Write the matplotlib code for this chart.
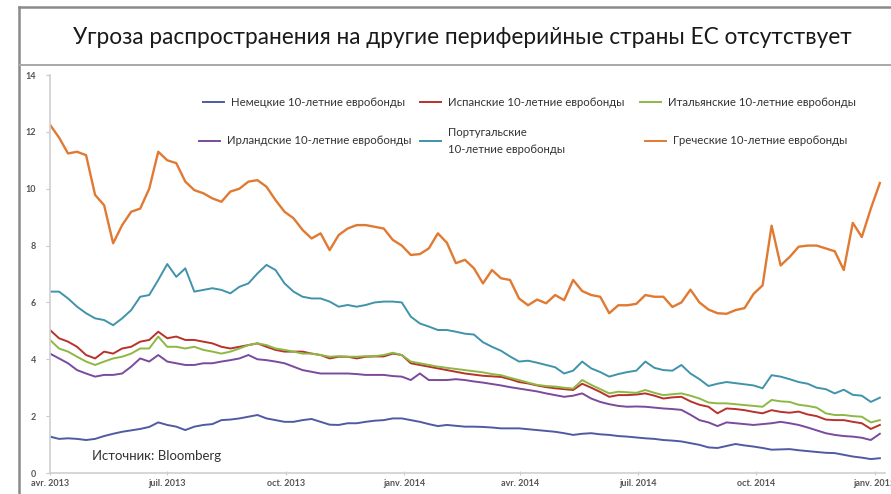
import matplotlib
matplotlib.use("Agg")
import matplotlib.pyplot as plt
from matplotlib.lines import Line2D
import pandas as pd

plt.rcParams['font.family'] = ['Lato', 'DejaVu Sans']

# weekly readings, 1 Apr 2013 .. early Jan 2015
dates = pd.date_range('2013-04-01', periods=93, freq='7D')

greek = [12.25, 11.8, 11.24, 11.3, 11.18, 9.78, 9.42, 8.08, 8.72, 9.19,
         9.3, 10.0, 11.3, 11.0, 10.9, 10.25, 9.95, 9.84, 9.66, 9.54,
         9.9, 10.0, 10.25, 10.3, 10.07, 9.6, 9.19, 8.96, 8.55, 8.25,
         8.43, 7.84, 8.37, 8.6, 8.72, 8.72, 8.66, 8.6, 8.2, 8.0,
         7.67, 7.7, 7.9, 8.43, 8.1, 7.38, 7.5, 7.2, 6.67, 7.14,
         6.85, 6.79, 6.14, 5.9, 6.1, 5.97, 6.26, 6.08, 6.79, 6.4,
         6.26, 6.2, 5.62, 5.9, 5.9, 5.95, 6.26, 6.2, 6.2, 5.84,
         6.0, 6.45, 6.0, 5.75, 5.62, 5.6, 5.73, 5.8, 6.3, 6.6,
         8.7, 7.3, 7.6, 7.96, 8.0, 8.0, 7.9, 7.8, 7.14, 8.8,
         8.3, 9.3, 10.2]
portugal = [6.38, 6.38, 6.14, 5.85, 5.62, 5.44, 5.38, 5.2, 5.44, 5.73,
            6.2, 6.26, 6.79, 7.35, 6.9, 7.2, 6.38, 6.44, 6.5, 6.44,
            6.32, 6.55, 6.67, 7.02, 7.32, 7.14, 6.67, 6.38, 6.2, 6.14,
            6.14, 6.03, 5.85, 5.91, 5.85, 5.91, 6.0, 6.03, 6.03, 6.0,
            5.5, 5.26, 5.15, 5.03, 5.03, 4.97, 4.9, 4.87, 4.6, 4.44,
            4.3, 4.1, 3.92, 3.95, 3.88, 3.8, 3.72, 3.5, 3.6, 3.92,
            3.68, 3.55, 3.39, 3.48, 3.55, 3.6, 3.92, 3.7, 3.62, 3.6,
            3.8, 3.5, 3.3, 3.06, 3.14, 3.2, 3.16, 3.12, 3.08, 2.98,
            3.44, 3.39, 3.3, 3.2, 3.14, 3.0, 2.95, 2.8, 2.93, 2.75,
            2.72, 2.5, 2.65]
spain = [5.03, 4.74, 4.62, 4.44, 4.15, 4.03, 4.27, 4.2, 4.38, 4.44,
         4.62, 4.68, 4.97, 4.74, 4.8, 4.68, 4.68, 4.62, 4.56, 4.44,
         4.38, 4.44, 4.5, 4.56, 4.44, 4.33, 4.27, 4.27, 4.27, 4.2,
         4.15, 4.03, 4.09, 4.09, 4.03, 4.09, 4.1, 4.1, 4.2, 4.15,
         3.86, 3.8, 3.74, 3.68, 3.62, 3.56, 3.5, 3.46, 3.42, 3.4,
         3.38, 3.3, 3.2, 3.15, 3.08, 3.02, 2.98, 2.95, 2.92, 3.14,
         3.0, 2.85, 2.68, 2.74, 2.74, 2.76, 2.8, 2.72, 2.62, 2.66,
         2.68, 2.52, 2.4, 2.33, 2.1, 2.27, 2.25, 2.21, 2.15, 2.1,
         2.21, 2.15, 2.12, 2.16, 2.06, 2.0, 1.88, 1.86, 1.86, 1.8,
         1.75, 1.55, 1.69]
italy = [4.68, 4.38, 4.27, 4.09, 3.92, 3.8, 3.92, 4.03, 4.09, 4.2,
         4.38, 4.38, 4.8, 4.44, 4.44, 4.38, 4.44, 4.33, 4.27, 4.2,
         4.27, 4.38, 4.5, 4.56, 4.5, 4.38, 4.33, 4.27, 4.2, 4.2,
         4.15, 4.09, 4.11, 4.09, 4.09, 4.11, 4.11, 4.15, 4.23, 4.15,
         3.92, 3.86, 3.8, 3.74, 3.7, 3.66, 3.62, 3.58, 3.54, 3.48,
         3.44, 3.35, 3.27, 3.18, 3.1, 3.06, 3.04, 3.0, 2.97, 3.27,
         3.1, 2.95, 2.8, 2.86, 2.84, 2.82, 2.92, 2.82, 2.74, 2.77,
         2.8, 2.72, 2.62, 2.48, 2.45, 2.45, 2.42, 2.39, 2.36, 2.33,
         2.57, 2.52, 2.5, 2.4, 2.36, 2.3, 2.1, 2.04, 2.04, 2.0,
         1.98, 1.78, 1.86]
ireland = [4.2, 4.03, 3.86, 3.62, 3.5, 3.39, 3.45, 3.45, 3.5, 3.74,
           4.03, 3.92, 4.15, 3.92, 3.86, 3.8, 3.8, 3.86, 3.86, 3.92,
           3.97, 4.03, 4.15, 4.0, 3.97, 3.92, 3.86, 3.74, 3.62, 3.56,
           3.5, 3.5, 3.5, 3.5, 3.48, 3.45, 3.45, 3.45, 3.41, 3.39,
           3.27, 3.5, 3.27, 3.27, 3.27, 3.3, 3.27, 3.22, 3.18, 3.13,
           3.08, 3.02, 2.97, 2.92, 2.87, 2.8, 2.74, 2.68, 2.72, 2.8,
           2.62, 2.5, 2.42, 2.36, 2.33, 2.34, 2.33, 2.3, 2.27, 2.25,
           2.22, 2.05, 1.86, 1.78, 1.65, 1.78, 1.75, 1.72, 1.69, 1.72,
           1.75, 1.8, 1.75, 1.69, 1.6, 1.5, 1.4, 1.34, 1.3, 1.28,
           1.24, 1.16, 1.38]
germany = [1.28, 1.2, 1.22, 1.2, 1.16, 1.2, 1.3, 1.38, 1.45, 1.5,
           1.55, 1.62, 1.78, 1.69, 1.63, 1.51, 1.63, 1.69, 1.72, 1.86,
           1.88, 1.92, 1.98, 2.04, 1.92, 1.86, 1.8, 1.8, 1.86, 1.9,
           1.8, 1.7, 1.69, 1.75, 1.75, 1.8, 1.84, 1.86, 1.92, 1.92,
           1.86, 1.8, 1.72, 1.65, 1.69, 1.66, 1.63, 1.63, 1.62, 1.6,
           1.57, 1.57, 1.57, 1.54, 1.51, 1.48, 1.45, 1.4, 1.34, 1.38,
           1.4, 1.36, 1.34, 1.3, 1.28, 1.25, 1.22, 1.2, 1.16, 1.14,
           1.11, 1.05, 0.99, 0.9, 0.88, 0.95, 1.02, 0.97, 0.93, 0.88,
           0.82, 0.83, 0.84, 0.8, 0.77, 0.74, 0.71, 0.7, 0.64, 0.58,
           0.54, 0.49, 0.52]

tick_dates = pd.to_datetime(['2013-04-01', '2013-07-01', '2013-10-01', '2014-01-01',
                             '2014-04-01', '2014-07-01', '2014-10-01', '2015-01-01'])
tick_labels = ['avr. 2013', 'juil. 2013', 'oct. 2013', 'janv. 2014',
               'avr. 2014', 'juil. 2014', 'oct. 2014', 'janv. 2015']

title = 'Угроза распространения на другие периферийные страны ЕС отсутствует'

# (name, values, colour)
series = [
    ('Немецкие 10-летние евробонды', germany, '#4f5aa3'),
    ('Испанские 10-летние евробонды', spain, '#b8322c'),
    ('Итальянские 10-летние евробонды', italy, '#8db843'),
    ('Ирландские 10-летние евробонды', ireland, '#7b4a9c'),
    ('Португальские\n10-летние евробонды', portugal, '#3f93aa'),
    ('Греческие 10-летние евробонды', greek, '#e07a32'),
]

W, H = 891, 494
fig = plt.figure(figsize=(W / 100, H / 100), dpi=100)
ax = fig.add_axes([50 / W, 1 - 473 / H, 835 / W, 398 / H])

for name, vals, col in series:
    lw = 1.7 if vals is greek else 1.4
    ax.plot(dates, vals, color=col, lw=lw, solid_joinstyle='round')

ax.set_ylim(0, 14)
ax.set_yticks(range(0, 15, 2))
ax.set_xlim(pd.Timestamp('2013-04-01'), pd.Timestamp('2015-01-09'))
ax.set_xticks(tick_dates)
ax.set_xticklabels(tick_labels)

for s in ['top', 'right']:
    ax.spines[s].set_visible(False)
for s in ['left', 'bottom']:
    ax.spines[s].set_color('#d0d0d0')
    ax.spines[s].set_linewidth(1.2)
ax.tick_params(axis='y', length=3, color='#c8c8c8', labelsize=6.5,
               labelcolor='#555555', pad=7)
ax.tick_params(axis='x', length=3, direction='inout', color='#c8c8c8',
               labelsize=6.5, labelcolor='#555555', pad=3)
for lab in ax.get_xticklabels() + ax.get_yticklabels():
    lab.set_fontweight('bold')


def fx(px):
    return px / W


def fy(py):
    return 1 - py / H


fig.text(fx(92), fy(456), 'Источник: Bloomberg', fontsize=9.5,
         color='#333333', va='center')

# frame and title band
fig.add_artist(Line2D([fx(19), fx(19)], [0, fy(7)], color='#8a8a8a', lw=1.8))
fig.add_artist(Line2D([fx(19), 1], [fy(7), fy(7)], color='#8a8a8a', lw=1.8))
fig.add_artist(Line2D([fx(19), 1], [fy(65), fy(65)], color='#a8a8a8', lw=1.4))
fig.text(fx(462), fy(37), title, ha='center', va='center', fontsize=16.3,
         color='#1a1a1a')

# legend laid out like the original
leg_pos = [(203, 102), (420, 102), (640, 102),
           (199, 141), (420, 141), (645, 141)]
for (name, vals, col), (lx, ly) in zip(series, leg_pos):
    fig.add_artist(Line2D([fx(lx), fx(lx + 21)], [fy(ly), fy(ly)], color=col, lw=1.4))
    fig.text(fx(lx + 28), fy(ly), name, ha='left', va='center', fontsize=8.2,
             color='#333333', linespacing=1.6)

fig.savefig('out.png', dpi=100)
